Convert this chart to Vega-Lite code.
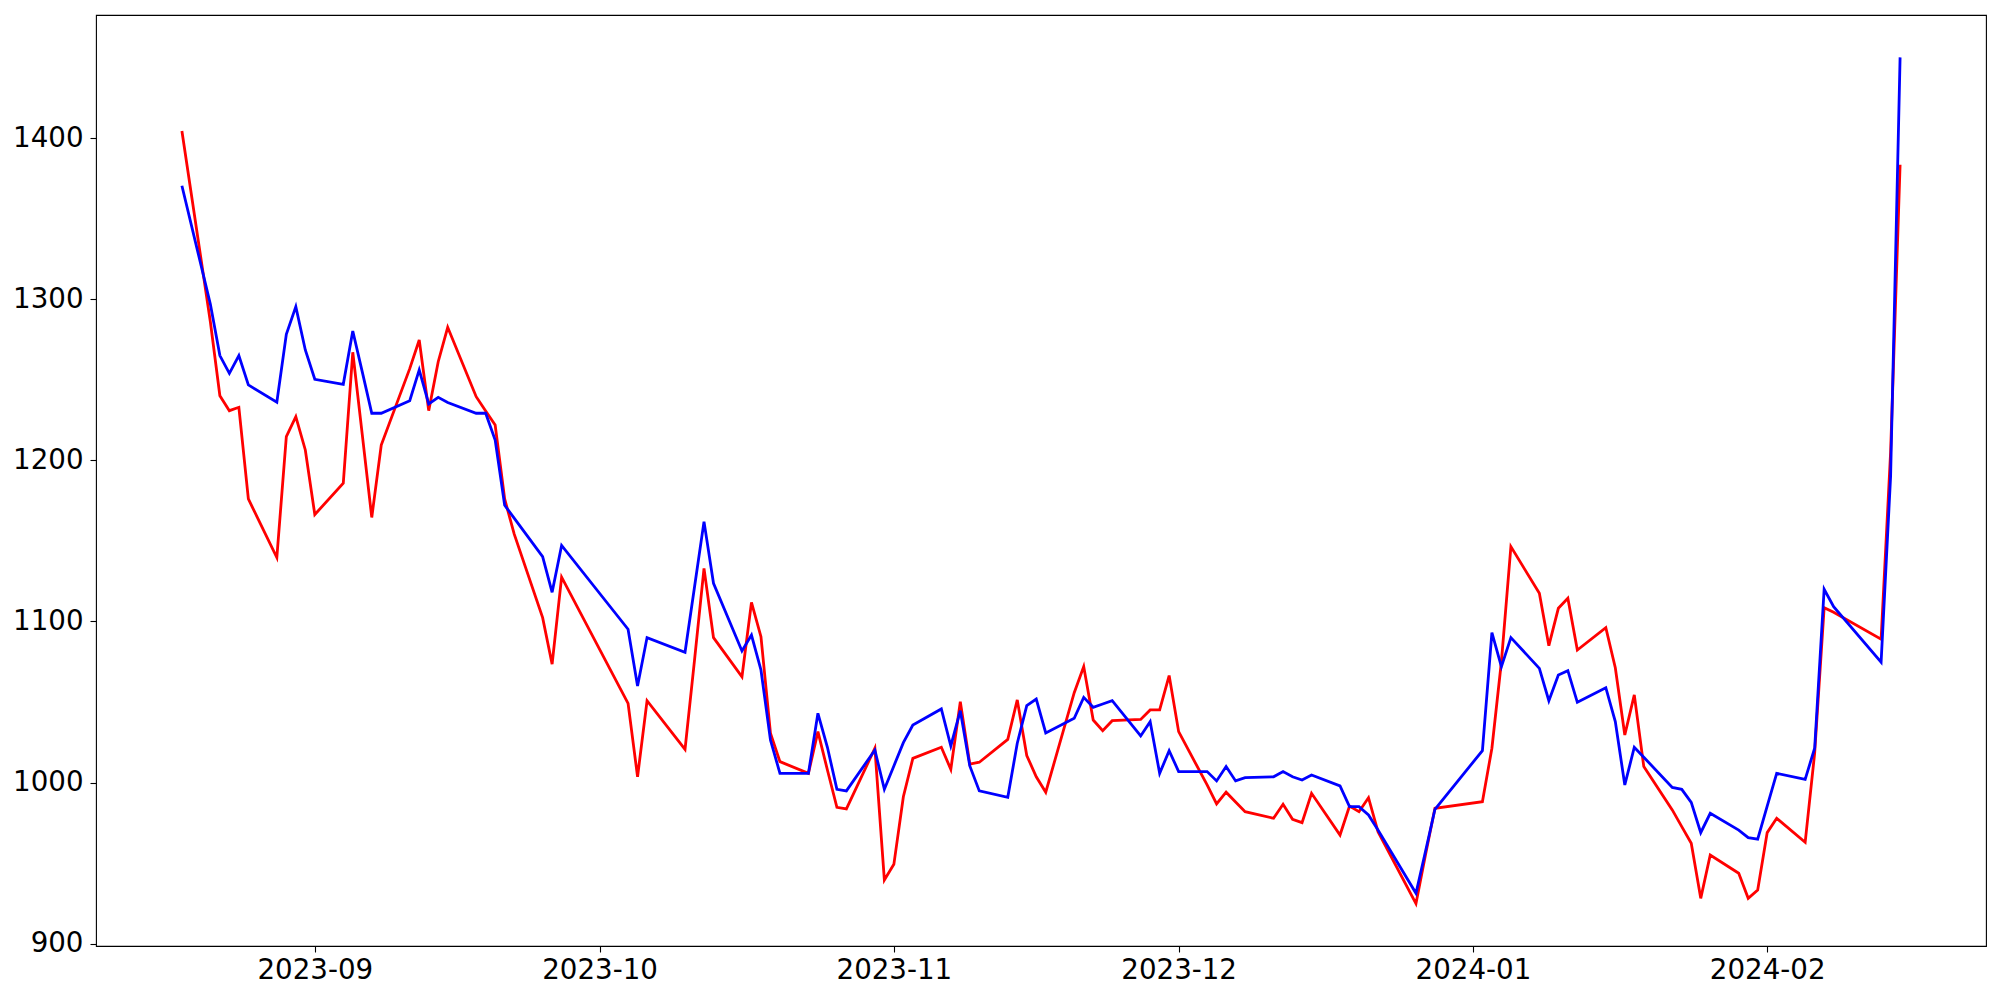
{
  "$schema": "https://vega.github.io/schema/vega-lite/v6.json",
  "width": 1890,
  "height": 931,
  "autosize": "none",
  "padding": {"left": 96, "top": 15, "right": 14, "bottom": 54},
  "background": "white",
  "config": {
    "view": {"stroke": "black", "strokeWidth": 1.1},
    "axis": {
      "labelFont": "DejaVu Sans",
      "labelFontSize": 27.7,
      "labelColor": "black",
      "tickColor": "black",
      "tickWidth": 1.1,
      "tickSize": 6,
      "domain": false,
      "grid": false,
      "title": null
    }
  },
  "data": {
    "values": [
      {"date": "2023-08-18", "red": 1404.6, "blue": 1370.6},
      {"date": "2023-08-21", "red": 1286, "blue": 1297},
      {"date": "2023-08-22", "red": 1240.2, "blue": 1265.1},
      {"date": "2023-08-23", "red": 1230.9, "blue": 1254.1},
      {"date": "2023-08-24", "red": 1233, "blue": 1265.1},
      {"date": "2023-08-25", "red": 1176.1, "blue": 1246.9},
      {"date": "2023-08-28", "red": 1139.7, "blue": 1236.1},
      {"date": "2023-08-29", "red": 1214.8, "blue": 1278.3},
      {"date": "2023-08-30", "red": 1227.2, "blue": 1295.5},
      {"date": "2023-08-31", "red": 1206.5, "blue": 1268.6},
      {"date": "2023-09-01", "red": 1166.4, "blue": 1250.4},
      {"date": "2023-09-04", "red": 1185.9, "blue": 1247.3},
      {"date": "2023-09-05", "red": 1267.2, "blue": 1280.4},
      {"date": "2023-09-06", "red": 1216, "blue": 1255},
      {"date": "2023-09-07", "red": 1164.6, "blue": 1229.3},
      {"date": "2023-09-08", "red": 1209.6, "blue": 1229.3},
      {"date": "2023-09-11", "red": 1257, "blue": 1237.1},
      {"date": "2023-09-12", "red": 1274.8, "blue": 1256.2},
      {"date": "2023-09-13", "red": 1230.9, "blue": 1235.1},
      {"date": "2023-09-14", "red": 1261.3, "blue": 1239.2},
      {"date": "2023-09-15", "red": 1282.7, "blue": 1236},
      {"date": "2023-09-18", "red": 1239.6, "blue": 1229.3},
      {"date": "2023-09-19", "red": 1230.7, "blue": 1229.3},
      {"date": "2023-09-20", "red": 1222, "blue": 1212.7},
      {"date": "2023-09-21", "red": 1176.1, "blue": 1172.2},
      {"date": "2023-09-22", "red": 1154.4, "blue": 1164.2},
      {"date": "2023-09-25", "red": 1102.4, "blue": 1140.3},
      {"date": "2023-09-26", "red": 1073.5, "blue": 1118.1},
      {"date": "2023-09-27", "red": 1127.5, "blue": 1147.2},
      {"date": "2023-10-04", "red": 1049.2, "blue": 1095.2},
      {"date": "2023-10-05", "red": 1003.6, "blue": 1060},
      {"date": "2023-10-06", "red": 1050.8, "blue": 1090},
      {"date": "2023-10-10", "red": 1020.6, "blue": 1080.9},
      {"date": "2023-10-11", "red": 1076, "blue": 1121.4},
      {"date": "2023-10-12", "red": 1133, "blue": 1162},
      {"date": "2023-10-13", "red": 1090, "blue": 1123.7},
      {"date": "2023-10-16", "red": 1065.7, "blue": 1081.7},
      {"date": "2023-10-17", "red": 1111.9, "blue": 1091.6},
      {"date": "2023-10-18", "red": 1090.6, "blue": 1069.9},
      {"date": "2023-10-19", "red": 1030.6, "blue": 1026.4},
      {"date": "2023-10-20", "red": 1013, "blue": 1005.7},
      {"date": "2023-10-23", "red": 1005.7, "blue": 1005.7},
      {"date": "2023-10-24", "red": 1031.6, "blue": 1043},
      {"date": "2023-10-25", "red": 1007.8, "blue": 1021.9},
      {"date": "2023-10-26", "red": 984.6, "blue": 995.8},
      {"date": "2023-10-27", "red": 983.6, "blue": 994.8},
      {"date": "2023-10-30", "red": 1021.3, "blue": 1020.2},
      {"date": "2023-10-31", "red": 939.5, "blue": 995.8},
      {"date": "2023-11-01", "red": 949.2, "blue": 1010.3},
      {"date": "2023-11-02", "red": 991.2, "blue": 1024.8},
      {"date": "2023-11-03", "red": 1015, "blue": 1035.7},
      {"date": "2023-11-06", "red": 1021.9, "blue": 1045.7},
      {"date": "2023-11-07", "red": 1008.2, "blue": 1022.7},
      {"date": "2023-11-08", "red": 1050.2, "blue": 1044.6},
      {"date": "2023-11-09", "red": 1011.5, "blue": 1010.3},
      {"date": "2023-11-10", "red": 1012.6, "blue": 994.8},
      {"date": "2023-11-13", "red": 1026.8, "blue": 990.8},
      {"date": "2023-11-14", "red": 1051.3, "blue": 1024.4},
      {"date": "2023-11-15", "red": 1016.8, "blue": 1047.7},
      {"date": "2023-11-16", "red": 1003.6, "blue": 1051.8},
      {"date": "2023-11-17", "red": 994, "blue": 1030.8},
      {"date": "2023-11-20", "red": 1055.8, "blue": 1039.9},
      {"date": "2023-11-21", "red": 1072, "blue": 1052.9},
      {"date": "2023-11-22", "red": 1038.8, "blue": 1046.7},
      {"date": "2023-11-23", "red": 1032.2, "blue": 1048.8},
      {"date": "2023-11-24", "red": 1038.4, "blue": 1050.8},
      {"date": "2023-11-27", "red": 1039.2, "blue": 1028.9},
      {"date": "2023-11-28", "red": 1045.1, "blue": 1037.8},
      {"date": "2023-11-29", "red": 1045.1, "blue": 1005.7},
      {"date": "2023-11-30", "red": 1066.4, "blue": 1019.8},
      {"date": "2023-12-01", "red": 1031.6, "blue": 1006.8},
      {"date": "2023-12-04", "red": 998.5, "blue": 1006.8},
      {"date": "2023-12-05", "red": 986.7, "blue": 1001},
      {"date": "2023-12-06", "red": 994, "blue": 1009.9},
      {"date": "2023-12-07", "red": 987.9, "blue": 1001},
      {"date": "2023-12-08", "red": 981.9, "blue": 1003},
      {"date": "2023-12-11", "red": 977.8, "blue": 1003.6},
      {"date": "2023-12-12", "red": 986.5, "blue": 1006.8},
      {"date": "2023-12-13", "red": 977.2, "blue": 1003.6},
      {"date": "2023-12-14", "red": 975.1, "blue": 1001.6},
      {"date": "2023-12-15", "red": 993.3, "blue": 1004.7},
      {"date": "2023-12-18", "red": 967.4, "blue": 997.9},
      {"date": "2023-12-19", "red": 985.4, "blue": 985},
      {"date": "2023-12-20", "red": 981.9, "blue": 985},
      {"date": "2023-12-21", "red": 990.6, "blue": 979.9},
      {"date": "2023-12-22", "red": 969.5, "blue": 970.5},
      {"date": "2023-12-26", "red": 924.8, "blue": 931.2},
      {"date": "2023-12-27", "red": 955, "blue": 957.1},
      {"date": "2023-12-28", "red": 984, "blue": 983.4},
      {"date": "2024-01-02", "red": 988.1, "blue": 1019.8},
      {"date": "2024-01-03", "red": 1021.3, "blue": 1093.1},
      {"date": "2024-01-04", "red": 1075, "blue": 1072},
      {"date": "2024-01-05", "red": 1146.5, "blue": 1090},
      {"date": "2024-01-08", "red": 1117.5, "blue": 1070.9},
      {"date": "2024-01-09", "red": 1085, "blue": 1050.8},
      {"date": "2024-01-10", "red": 1108.2, "blue": 1066.8},
      {"date": "2024-01-11", "red": 1114.4, "blue": 1069.5},
      {"date": "2024-01-12", "red": 1082.3, "blue": 1049.8},
      {"date": "2024-01-15", "red": 1096.2, "blue": 1058.9},
      {"date": "2024-01-16", "red": 1071.3, "blue": 1037.8},
      {"date": "2024-01-17", "red": 1029.5, "blue": 998.5},
      {"date": "2024-01-18", "red": 1054.4, "blue": 1021.9},
      {"date": "2024-01-19", "red": 1009.9, "blue": 1015.7},
      {"date": "2024-01-22", "red": 983, "blue": 997},
      {"date": "2024-01-23", "red": 972.6, "blue": 995.8},
      {"date": "2024-01-24", "red": 962.3, "blue": 987.7},
      {"date": "2024-01-25", "red": 928.1, "blue": 968.9},
      {"date": "2024-01-26", "red": 955, "blue": 980.9},
      {"date": "2024-01-29", "red": 943.7, "blue": 970.5},
      {"date": "2024-01-30", "red": 928.1, "blue": 965.8},
      {"date": "2024-01-31", "red": 933.3, "blue": 964.8},
      {"date": "2024-02-01", "red": 968.9, "blue": 985.4},
      {"date": "2024-02-02", "red": 977.8, "blue": 1005.7},
      {"date": "2024-02-05", "red": 962.9, "blue": 1002},
      {"date": "2024-02-06", "red": 1018.2, "blue": 1021.3},
      {"date": "2024-02-07", "red": 1108.6, "blue": 1120},
      {"date": "2024-02-08", "red": 1105.7, "blue": 1109.2},
      {"date": "2024-02-13", "red": 1089, "blue": 1074.7},
      {"date": "2024-02-14", "red": 1205, "blue": 1190},
      {"date": "2024-02-15", "red": 1383.6, "blue": 1450.3}
    ]
  },
  "encoding": {
    "x": {
      "field": "date",
      "type": "temporal",
      "scale": {
        "type": "utc",
        "domain": [
          {"year": 2023, "month": 8, "date": 8, "hours": 22, "minutes": 48, "utc": true},
          {"year": 2024, "month": 2, "date": 24, "hours": 1, "minutes": 12, "utc": true}
        ]
      },
      "axis": {
        "values": [
          {"year": 2023, "month": 9, "date": 1, "utc": true},
          {"year": 2023, "month": 10, "date": 1, "utc": true},
          {"year": 2023, "month": 11, "date": 1, "utc": true},
          {"year": 2023, "month": 12, "date": 1, "utc": true},
          {"year": 2024, "month": 1, "date": 1, "utc": true},
          {"year": 2024, "month": 2, "date": 1, "utc": true}
        ],
        "labelExpr": "utcFormat(datum.value, '%Y-%m')",
        "labelAngle": 0,
        "labelPadding": 4
      }
    }
  },
  "layer": [
    {
      "mark": {"type": "line", "color": "#ff0000", "strokeWidth": 2.8},
      "encoding": {
        "y": {
          "field": "red",
          "type": "quantitative",
          "scale": {"domain": [898.5, 1476.6], "nice": false, "zero": false},
          "axis": {"values": [900, 1000, 1100, 1200, 1300, 1400], "format": "d", "labelPadding": 7}
        }
      }
    },
    {
      "mark": {"type": "line", "color": "#0000ff", "strokeWidth": 2.8},
      "encoding": {
        "y": {"field": "blue", "type": "quantitative"}
      }
    }
  ]
}
